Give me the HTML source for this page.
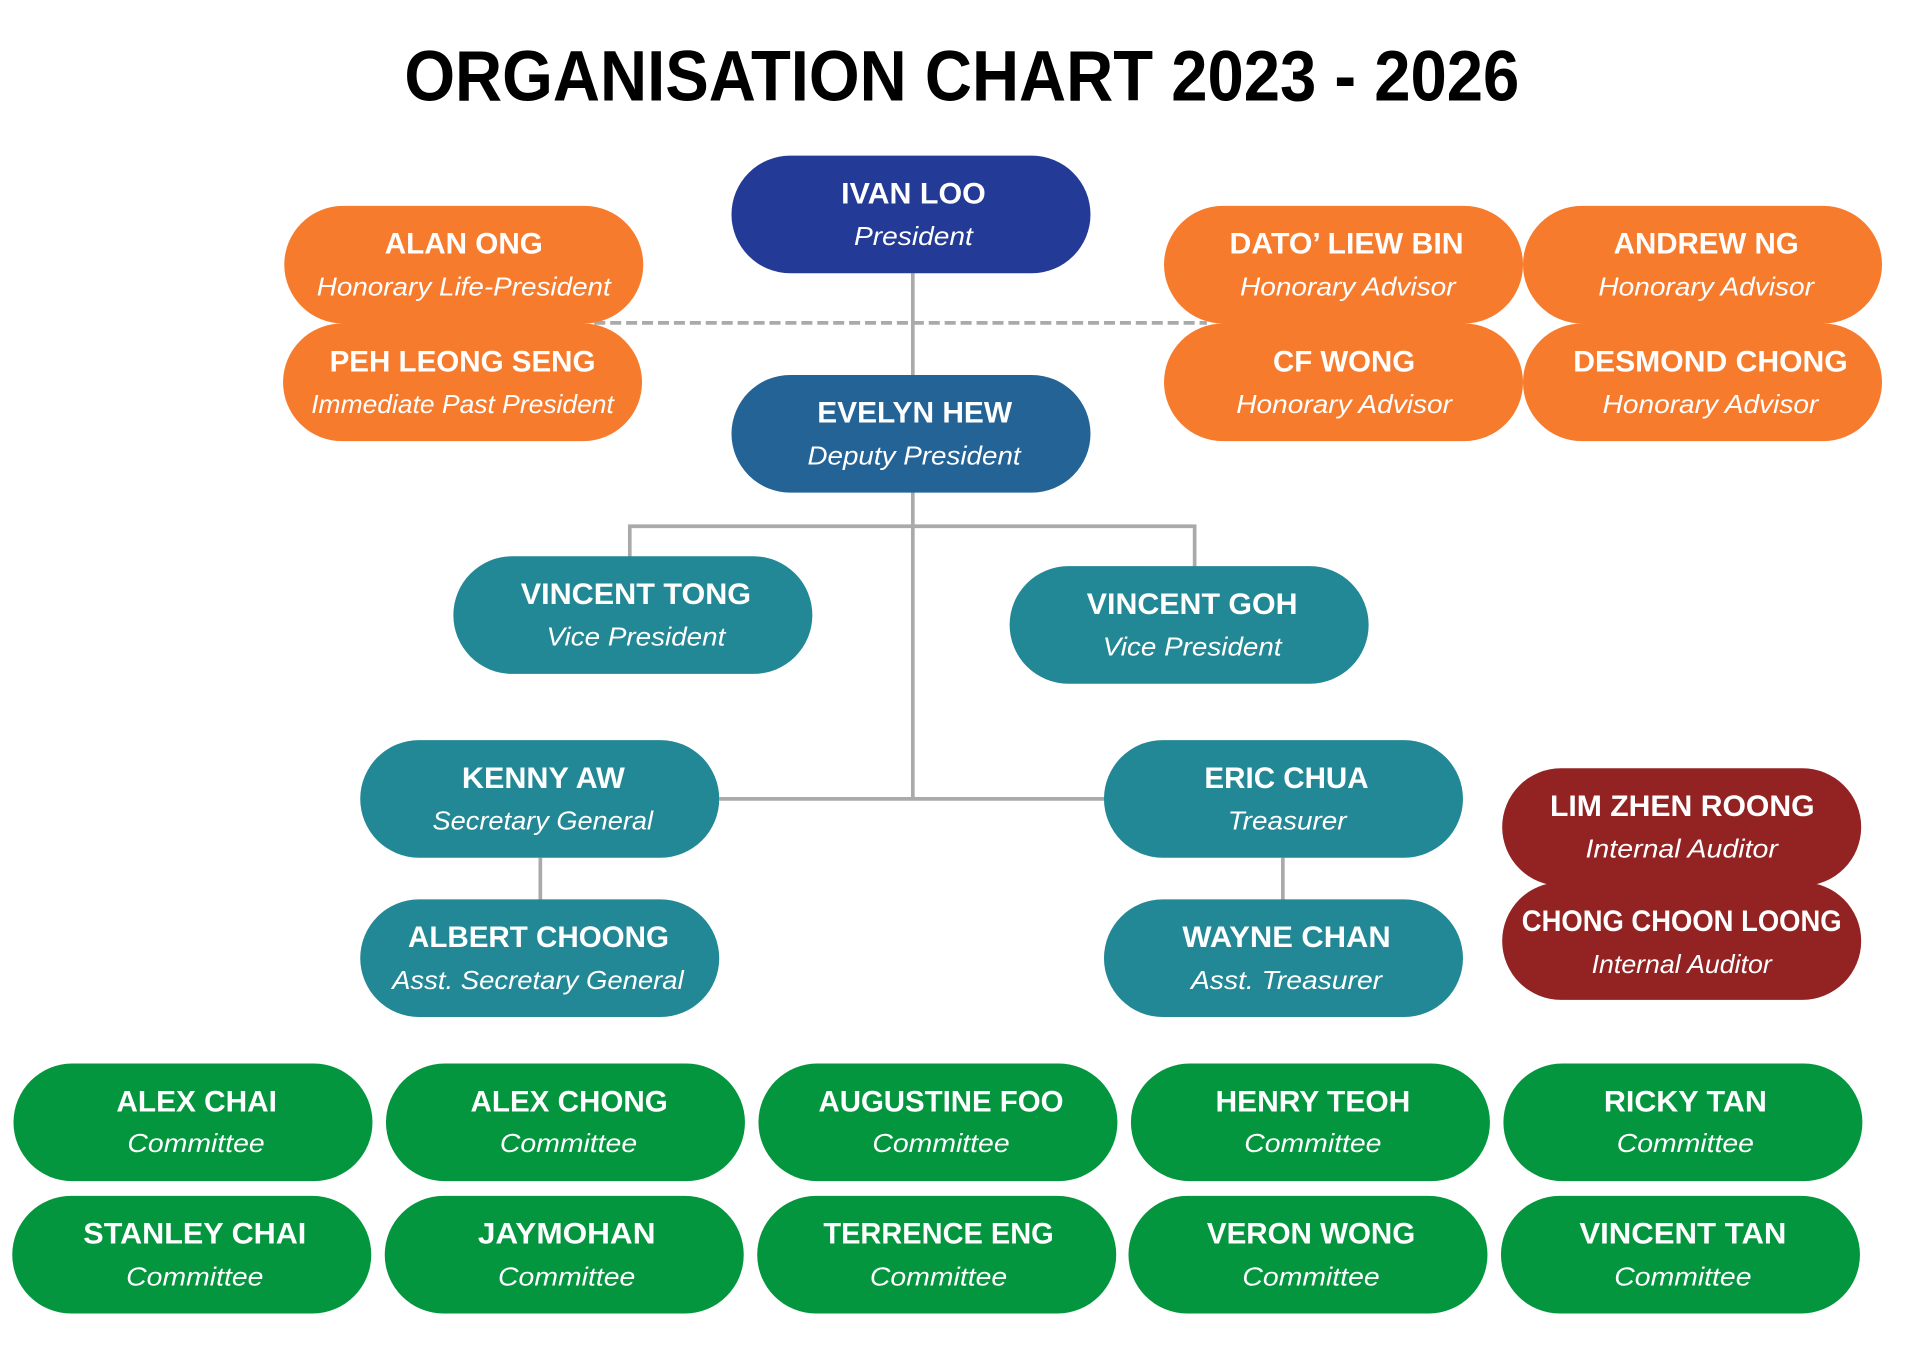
<!DOCTYPE html>
<html><head><meta charset="utf-8"><style>
html,body{margin:0;padding:0;background:#fff;}
svg{display:block;}
text{font-family:"Liberation Sans",sans-serif;fill:#fff;text-anchor:middle;}
.n{font-size:24px;font-weight:bold;}
.s{font-size:21px;font-style:italic;}
</style></head><body>
<svg width="1920" height="1358" viewBox="0 0 1567 1108.3" xmlns="http://www.w3.org/2000/svg">
<text x="785" y="82" style="fill:#000;font-size:58px;font-weight:bold" textLength="910" lengthAdjust="spacingAndGlyphs">ORGANISATION CHART 2023 - 2026</text>
<g stroke="#aaaaaa" stroke-width="3" fill="none">
<line x1="745" y1="223" x2="745" y2="653"/>
<polyline points="514,455 514,429.5 975,429.5 975,463"/>
<line x1="587" y1="652" x2="901" y2="652"/>
<line x1="441" y1="700" x2="441" y2="735"/>
<line x1="1047" y1="700" x2="1047" y2="735"/>
<line x1="485" y1="263.5" x2="985" y2="263.5" stroke-dasharray="9,4"/>
</g>
<g>
<rect x="597" y="127" width="293" height="96" rx="48" fill="#233a96"/><text class="n" x="745.5" y="166" textLength="118" lengthAdjust="spacingAndGlyphs">IVAN LOO</text><text class="s" x="745.5" y="200" textLength="97" lengthAdjust="spacingAndGlyphs">President</text>

<rect x="232" y="168" width="293" height="96" rx="48" fill="#f77b2c"/><text class="n" x="378.5" y="207" textLength="129" lengthAdjust="spacingAndGlyphs">ALAN ONG</text><text class="s" x="378.5" y="241" textLength="240" lengthAdjust="spacingAndGlyphs">Honorary Life-President</text>
<rect x="231" y="264" width="293" height="96" rx="48" fill="#f77b2c"/><text class="n" x="377.5" y="303" textLength="217" lengthAdjust="spacingAndGlyphs">PEH LEONG SENG</text><text class="s" x="377.5" y="337" textLength="247" lengthAdjust="spacingAndGlyphs">Immediate Past President</text>

<rect x="950" y="168" width="293" height="96" rx="48" fill="#f77b2c"/><text class="n" x="1099" y="207" textLength="191" lengthAdjust="spacingAndGlyphs">DATO’ LIEW BIN</text><text class="s" x="1100" y="241" textLength="176" lengthAdjust="spacingAndGlyphs">Honorary Advisor</text>
<rect x="1243" y="168" width="293" height="96" rx="48" fill="#f77b2c"/><text class="n" x="1392.5" y="207" textLength="151" lengthAdjust="spacingAndGlyphs">ANDREW NG</text><text class="s" x="1392.5" y="241" textLength="176" lengthAdjust="spacingAndGlyphs">Honorary Advisor</text>
<rect x="950" y="264" width="293" height="96" rx="48" fill="#f77b2c"/><text class="n" x="1097" y="303" textLength="116" lengthAdjust="spacingAndGlyphs">CF WONG</text><text class="s" x="1097" y="337" textLength="176" lengthAdjust="spacingAndGlyphs">Honorary Advisor</text>
<rect x="1243" y="264" width="293" height="96" rx="48" fill="#f77b2c"/><text class="n" x="1396" y="303" textLength="224" lengthAdjust="spacingAndGlyphs">DESMOND CHONG</text><text class="s" x="1396" y="337" textLength="176" lengthAdjust="spacingAndGlyphs">Honorary Advisor</text>

<rect x="597" y="306" width="293" height="96" rx="48" fill="#246396"/><text class="n" x="746.5" y="345" textLength="159" lengthAdjust="spacingAndGlyphs">EVELYN HEW</text><text class="s" x="746" y="379" textLength="174" lengthAdjust="spacingAndGlyphs">Deputy President</text>

<rect x="370" y="454" width="293" height="96" rx="48" fill="#238896"/><text class="n" x="519" y="493" textLength="188" lengthAdjust="spacingAndGlyphs">VINCENT TONG</text><text class="s" x="519" y="527" textLength="146" lengthAdjust="spacingAndGlyphs">Vice President</text>
<rect x="824" y="462" width="293" height="96" rx="48" fill="#238896"/><text class="n" x="973" y="501" textLength="172" lengthAdjust="spacingAndGlyphs">VINCENT GOH</text><text class="s" x="973" y="535" textLength="146" lengthAdjust="spacingAndGlyphs">Vice President</text>

<rect x="294" y="604" width="293" height="96" rx="48" fill="#238896"/><text class="n" x="443.5" y="643" textLength="133" lengthAdjust="spacingAndGlyphs">KENNY AW</text><text class="s" x="443" y="677" textLength="180" lengthAdjust="spacingAndGlyphs">Secretary General</text>
<rect x="901" y="604" width="293" height="96" rx="48" fill="#238896"/><text class="n" x="1050" y="643" textLength="134" lengthAdjust="spacingAndGlyphs">ERIC CHUA</text><text class="s" x="1050.5" y="677" textLength="97" lengthAdjust="spacingAndGlyphs">Treasurer</text>
<rect x="294" y="734" width="293" height="96" rx="48" fill="#238896"/><text class="n" x="439.5" y="773" textLength="213" lengthAdjust="spacingAndGlyphs">ALBERT CHOONG</text><text class="s" x="439" y="807" textLength="238" lengthAdjust="spacingAndGlyphs">Asst. Secretary General</text>
<rect x="901" y="734" width="293" height="96" rx="48" fill="#238896"/><text class="n" x="1050" y="773" textLength="170" lengthAdjust="spacingAndGlyphs">WAYNE CHAN</text><text class="s" x="1050" y="807" textLength="156" lengthAdjust="spacingAndGlyphs">Asst. Treasurer</text>

<rect x="1226" y="627" width="293" height="96" rx="48" fill="#932222"/><text class="n" x="1373" y="666" textLength="216" lengthAdjust="spacingAndGlyphs">LIM ZHEN ROONG</text><text class="s" x="1372.5" y="700" textLength="157" lengthAdjust="spacingAndGlyphs">Internal Auditor</text>
<rect x="1226" y="720" width="293" height="96" rx="48" fill="#932222"/><text class="n" x="1372.5" y="760" textLength="261" lengthAdjust="spacingAndGlyphs">CHONG CHOON LOONG</text><text class="s" x="1372.5" y="794" textLength="147" lengthAdjust="spacingAndGlyphs">Internal Auditor</text>

<g fill="#03963e">
<rect x="11" y="868" width="293" height="96" rx="48"/><rect x="315" y="868" width="293" height="96" rx="48"/><rect x="619" y="868" width="293" height="96" rx="48"/><rect x="923" y="868" width="293" height="96" rx="48"/><rect x="1227" y="868" width="293" height="96" rx="48"/>
<rect x="10" y="976" width="293" height="96" rx="48"/><rect x="314" y="976" width="293" height="96" rx="48"/><rect x="618" y="976" width="293" height="96" rx="48"/><rect x="921" y="976" width="293" height="96" rx="48"/><rect x="1225" y="976" width="293" height="96" rx="48"/>
</g>
<text class="n" x="160.5" y="907" textLength="131" lengthAdjust="spacingAndGlyphs">ALEX CHAI</text><text class="s" x="160" y="940" textLength="112" lengthAdjust="spacingAndGlyphs">Committee</text>
<text class="n" x="464.5" y="907" textLength="161" lengthAdjust="spacingAndGlyphs">ALEX CHONG</text><text class="s" x="464" y="940" textLength="112" lengthAdjust="spacingAndGlyphs">Committee</text>
<text class="n" x="768" y="907" textLength="200" lengthAdjust="spacingAndGlyphs">AUGUSTINE FOO</text><text class="s" x="768" y="940" textLength="112" lengthAdjust="spacingAndGlyphs">Committee</text>
<text class="n" x="1071.5" y="907" textLength="159" lengthAdjust="spacingAndGlyphs">HENRY TEOH</text><text class="s" x="1071.5" y="940" textLength="112" lengthAdjust="spacingAndGlyphs">Committee</text>
<text class="n" x="1375.5" y="907" textLength="133" lengthAdjust="spacingAndGlyphs">RICKY TAN</text><text class="s" x="1375.5" y="940" textLength="112" lengthAdjust="spacingAndGlyphs">Committee</text>
<text class="n" x="159" y="1015" textLength="182" lengthAdjust="spacingAndGlyphs">STANLEY CHAI</text><text class="s" x="159" y="1049" textLength="112" lengthAdjust="spacingAndGlyphs">Committee</text>
<text class="n" x="462.5" y="1015" textLength="145" lengthAdjust="spacingAndGlyphs">JAYMOHAN</text><text class="s" x="462.5" y="1049" textLength="112" lengthAdjust="spacingAndGlyphs">Committee</text>
<text class="n" x="766" y="1015" textLength="188" lengthAdjust="spacingAndGlyphs">TERRENCE ENG</text><text class="s" x="766" y="1049" textLength="112" lengthAdjust="spacingAndGlyphs">Committee</text>
<text class="n" x="1070" y="1015" textLength="170" lengthAdjust="spacingAndGlyphs">VERON WONG</text><text class="s" x="1070" y="1049" textLength="112" lengthAdjust="spacingAndGlyphs">Committee</text>
<text class="n" x="1373.5" y="1015" textLength="169" lengthAdjust="spacingAndGlyphs">VINCENT TAN</text><text class="s" x="1373.5" y="1049" textLength="112" lengthAdjust="spacingAndGlyphs">Committee</text>
</g>
</svg>
</body></html>
